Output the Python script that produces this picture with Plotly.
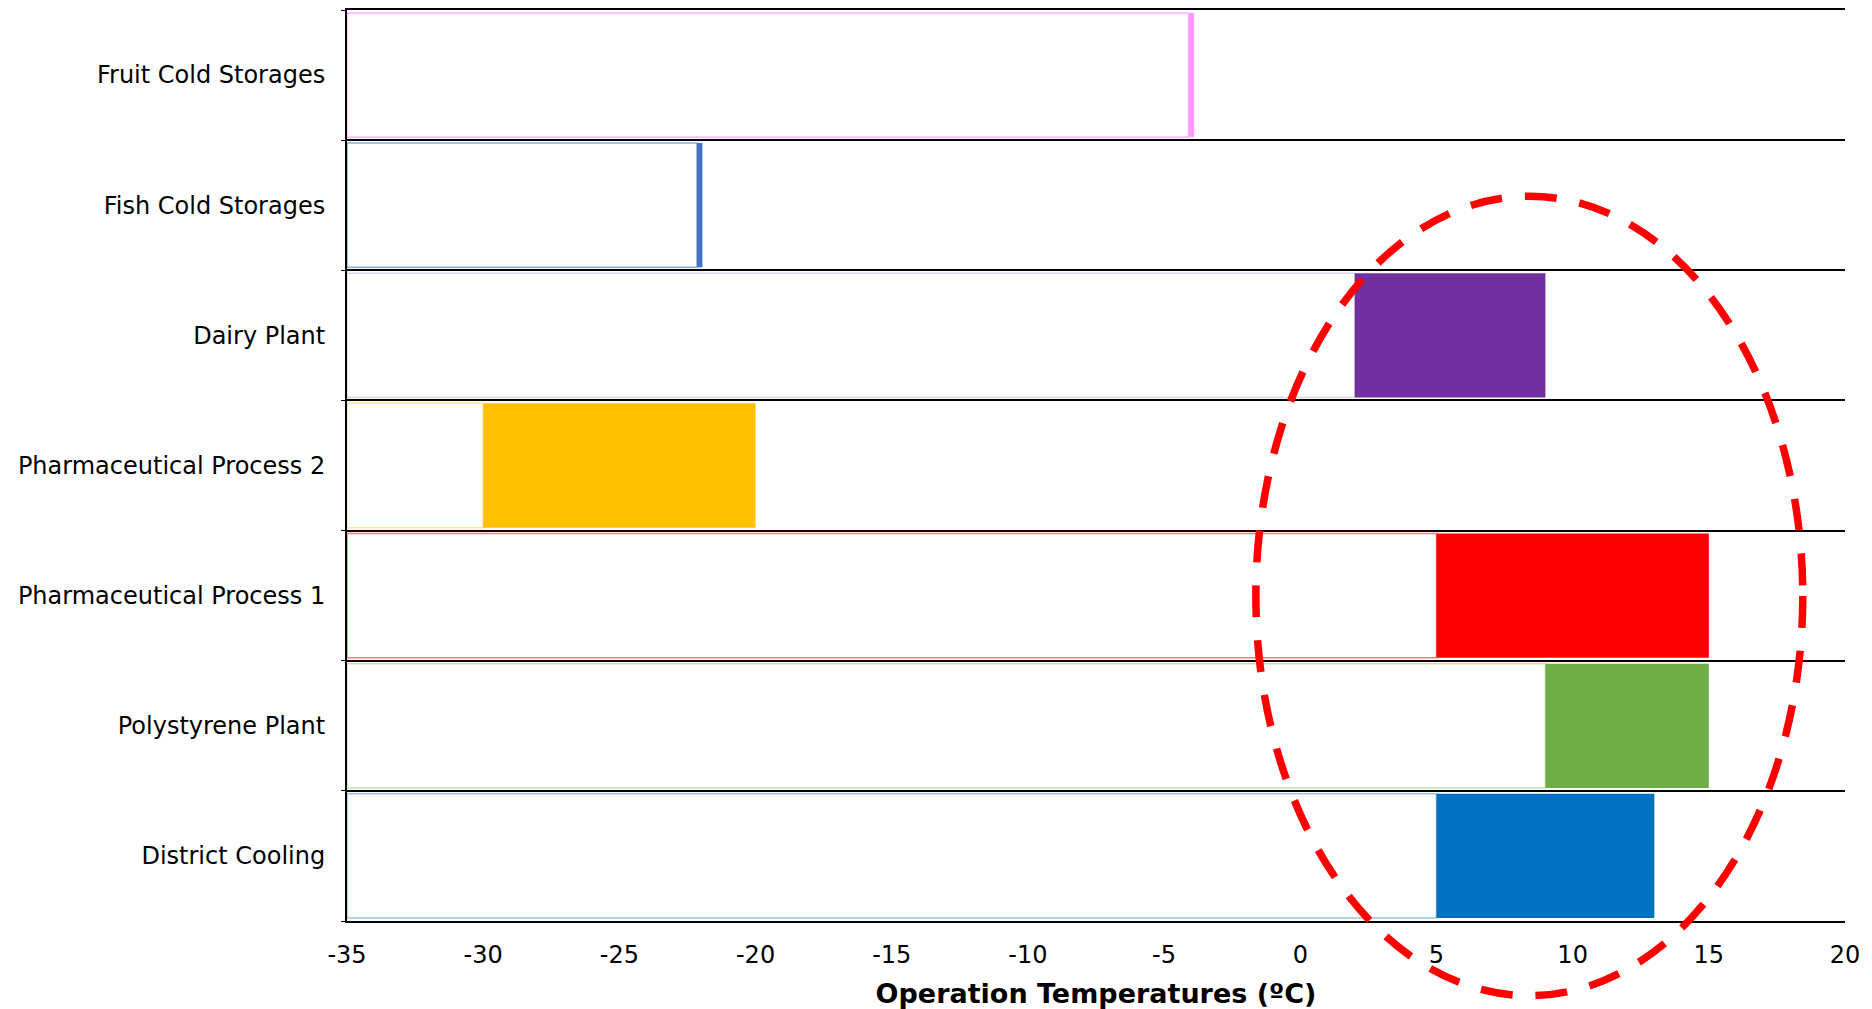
import plotly.graph_objects as go

categories = ["District Cooling", "Polystyrene Plant", "Pharmaceutical Process 1",
              "Pharmaceutical Process 2", "Dairy Plant", "Fish Cold Storages",
              "Fruit Cold Storages"]
temp_min = [5, 9, 5, -30, 2, -22.15, -4.1]
temp_max = [13, 15, 15, -20, 9, -21.95, -3.9]
colors = ["#0070C0", "#70AD47", "#FF0000", "#FFC000", "#7030A0", "#4472C4", "#FF99FF"]
edge_colors = ["#9DC3E6", "#C5E0B4", "#FF7C7C", "#FFE699", "#D9D2E0", "#8FAADC", "#FFB3FF"]
axis_min, axis_max = -35, 20
x_ticks = list(range(-35, 21, 5))

fig = go.Figure()
fig.add_trace(go.Bar(
    y=categories, x=[m - axis_min for m in temp_min], base=[axis_min] * len(categories),
    orientation="h", marker=dict(color="white", line=dict(color=edge_colors, width=1.5)),
    hoverinfo="skip", showlegend=False))
fig.add_trace(go.Bar(
    y=categories, x=[b - a for a, b in zip(temp_min, temp_max)], base=temp_min,
    orientation="h", marker=dict(color=colors, line=dict(width=0)),
    showlegend=False))

fig.add_shape(type="circle", xref="x", yref="paper",
              x0=-1.63, x1=18.45, y0=-0.082, y1=0.7956,
              line=dict(color="#FF0000", width=7.5, dash="32px,23px"), layer="above")

fig.update_layout(
    width=1872, height=1009, barmode="overlay", bargap=0.045,
    margin=dict(l=339, r=35, t=0, b=96),
    paper_bgcolor="white", plot_bgcolor="white",
    font=dict(family="DejaVu Sans", size=24, color="black"),
    xaxis=dict(range=[axis_min, axis_max], tickvals=x_ticks, ticktext=[str(t) for t in x_ticks],
               showgrid=False, zeroline=False, showline=True, mirror=True,
               linecolor="black", linewidth=2, ticks="", ticklabelstandoff=11,
               tickfont=dict(size=24),
               title=dict(text="<b>Operation Temperatures (ºC)</b>", font=dict(size=27), standoff=16)),
    yaxis=dict(type="category", categoryarray=categories, categoryorder="array",
               tickson="boundaries", showgrid=True, gridcolor="black", gridwidth=2,
               showline=True, linecolor="black", linewidth=2, ticks="outside", ticklen=4,
               tickcolor="black", ticklabelstandoff=15, tickfont=dict(size=24),
               zeroline=False),
)

fig.write_html("out.html")
